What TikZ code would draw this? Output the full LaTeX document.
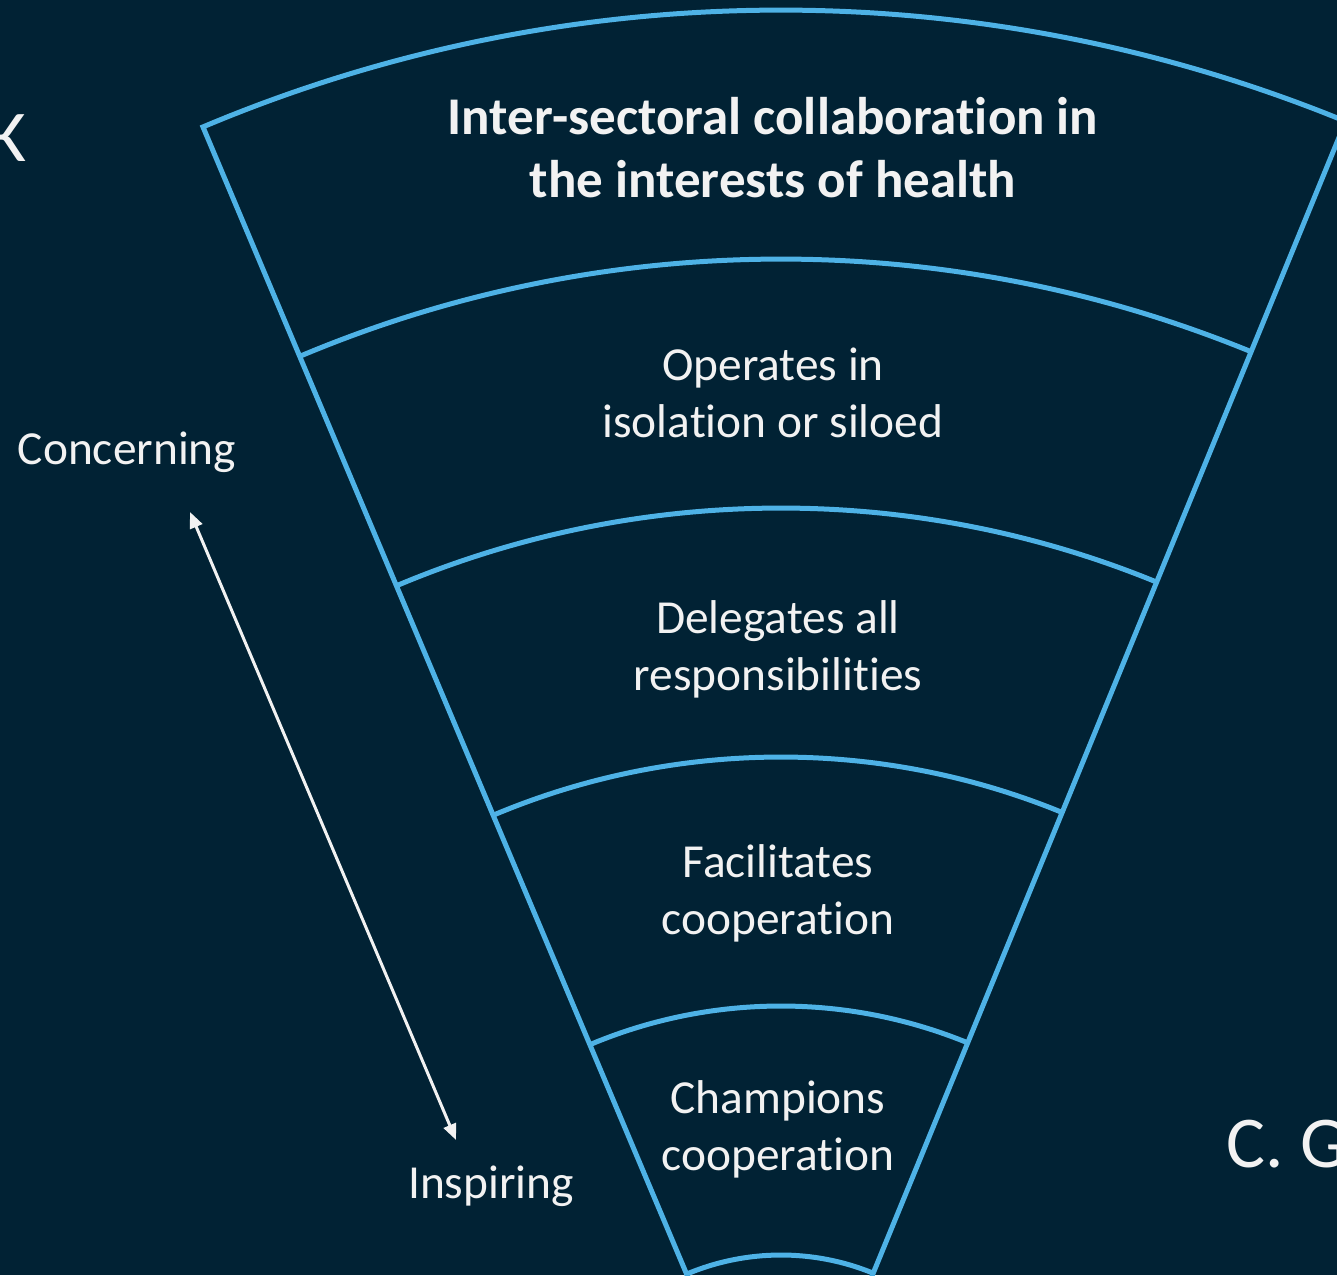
\documentclass[tikz,border=0pt]{standalone}
\usepackage{fontspec}
\setmainfont{Carlito}[Ligatures=NoCommon]
\usepackage{tikz}
\usetikzlibrary{arrows.meta, calc}

\definecolor{navy}{RGB}{1,34,52}
\definecolor{funnelblue}{RGB}{78,178,230}
\definecolor{lightwhite}{RGB}{242,242,242}

\tikzset{
    funnel/.style={draw=funnelblue, line width=2.5pt},
    level/.style={text=lightwhite, align=center, inner sep=0pt, font=\fontsize{23.7}{28.5}\selectfont},
    headline/.style={level, font=\fontsize{26.5}{31.5}\selectfont\bfseries},
    side/.style={text=lightwhite, inner sep=0pt, font=\fontsize{23.7}{28.5}\selectfont},
    bigtext/.style={text=lightwhite, inner sep=0pt, font=\fontsize{36.5}{44}\selectfont},
    pointer/.style={draw=lightwhite, line width=1.5pt,
        {Triangle[length=8pt,width=6.5pt]}-{Triangle[length=8pt,width=6.5pt]}}
}

\begin{document}
\begin{tikzpicture}[x=0.5pt, y=0.5pt]
    \useasboundingbox (0,0) rectangle (1337,1275);
    \fill[navy] (0,0) rectangle (1337,1275);
    \clip (0,0) rectangle (1337,1275);

    \coordinate (apex) at (781,-223);

    % outline of the funnel
    \draw[funnel] ($(apex)+(112.86:200)$) -- ($(apex)+(112.86:1488)$)
        arc[start angle=112.86, end angle=67.7, radius=1488]
        -- ($(apex)+(67.7:200)$);

    % the bands
    \foreach \r in {1239,990,741,492,243} {
        \draw[funnel] ($(apex)+(112.86:\r)$) arc[start angle=112.86, end angle=67.7, radius=\r];
    }

    \node[headline] (title) at (773,1127) {Inter-sectoral collaboration in\\the interests of health};
    \node[level] (operates) at (773,882) {Operates in\\isolation or siloed};
    \node[level] (delegates) at (778,626) {Delegates all\\responsibilities};
    \node[level] (facilitates) at (778,382) {Facilitates\\cooperation};
    \node[level] (champions) at (778,146) {Champions\\cooperation};

    \node[side] (concerning) at (127,823) {Concerning};
    \node[side] (inspiring) at (491,89) {Inspiring};

    \coordinate (up) at (190,763);
    \coordinate (down) at (456,135);
    \draw[pointer] (up) -- (down);

    \node[bigtext, anchor=base west] (cg) at (1226,108) {C. G};
    \node[bigtext, anchor=base east] (k) at (27,1113) {K};
\end{tikzpicture}
\end{document}
